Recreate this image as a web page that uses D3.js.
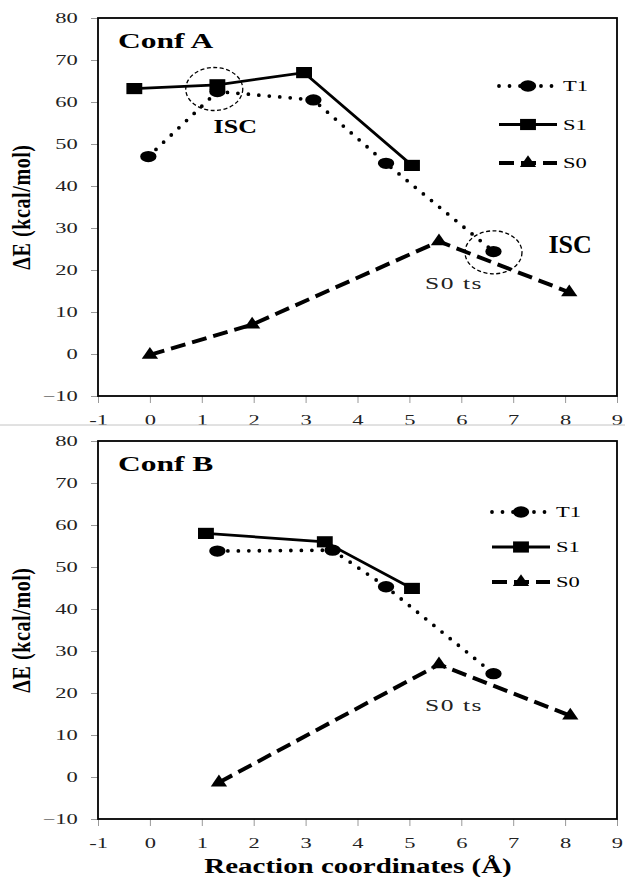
<!DOCTYPE html>
<html>
<head>
<meta charset="utf-8">
<script src="https://cdn.jsdelivr.net/npm/d3@7"></script>
<style>
  body { margin: 0; background: #fff; }
  svg { display: block; }
</style>
</head>
<body>
<svg id="chart" width="625" height="877"></svg>
<script>
// reaction coordinate (x) and energy (y)
var xTicks = [-1, 0, 1, 2, 3, 4, 5, 6, 7, 8, 9];
var yTicks = [-10, 0, 10, 20, 30, 40, 50, 60, 70, 80];
var seriesNames = ["T1", "S1", "S0"];

var confA_T1 = [[-0.03, 47], [1.3, 62.5], [3.15, 60.5], [4.55, 45.4], [6.62, 24.4]];
var confA_S1 = [[-0.3, 63.2], [1.3, 64.1], [2.97, 67], [5.05, 44.9]];
var confA_S0 = [[0, -0.2], [1.97, 7], [5.57, 26.8], [8.08, 14.7]];
var confA_isc = [[1.24, 63.1], [6.62, 24.2]];

var confB_T1 = [[1.3, 53.8], [3.52, 54], [4.55, 45.3], [6.62, 24.6]];
var confB_S1 = [[1.08, 58], [3.37, 56], [5.05, 44.9]];
var confB_S0 = [[1.33, -1.3], [5.57, 26.8], [8.1, 14.6]];

var SX = 1.5;   // the reference is stretched sideways, text too
var serif = "'Liberation Serif', 'Times New Roman', serif";

var svg = d3.select("#chart");

function marker(g, name, px, py) {
    var sym, sc;
    if (name == "T1") { sym = d3.symbol(d3.symbolCircle, 100); sc = 1.45; }
    else if (name == "S1") { sym = d3.symbol(d3.symbolSquare, 125); sc = 1.42; }
    else { sym = d3.symbol(d3.symbolTriangle, 80); sc = 1.2; }
    g.append("path")
        .attr("d", sym())
        .attr("fill", "#000")
        .attr("transform", `translate(${px},${py}) scale(${sc},1)`);
}

function lineStyle(sel, name) {
    sel.attr("fill", "none").attr("stroke", "#000");
    if (name == "T1") {
        sel.attr("stroke-width", 3.8).attr("stroke-linecap", "round").attr("stroke-dasharray", "0,10.5");
    } else if (name == "S1") {
        sel.attr("stroke-width", 2.8);
    } else {
        sel.attr("stroke-width", 4).attr("stroke-dasharray", "15,7");
    }
    return sel;
}

function drawPanel(cfg) {
    var top = cfg.top, bottom = cfg.bottom;
    var left = 98, right = 617;
    var x = d3.scaleLinear().domain([-1, 9]).range([left, right]);
    var y = d3.scaleLinear().domain([-10, 80]).range([bottom, top]);
    var g = svg.append("g");

    // axes (ticks + labels), frame drawn separately
    var yAxis = g.append("g")
        .attr("transform", `translate(${left},0)`)
        .call(d3.axisLeft(y).tickValues(yTicks).tickSize(7).tickPadding(6.5).tickSizeOuter(0));
    var xAxis = g.append("g")
        .attr("transform", `translate(0,${bottom})`)
        .call(d3.axisBottom(x).tickValues(xTicks).tickSize(7).tickPadding(9).tickSizeOuter(0)
            .tickFormat(d => d < 0 ? "-" + Math.abs(d) : d));
    [yAxis, xAxis].forEach(function (a) {
        a.select(".domain").remove();
        a.selectAll("line").attr("stroke", "#999");
        a.selectAll("text")
            .attr("font-family", serif)
            .attr("font-size", 15)
            .attr("fill", "#222")
            .attr("transform", `scale(${SX},1)`);
    });
    xAxis.selectAll("text").attr("dy", "0.85em");

    g.append("rect")
        .attr("x", left).attr("y", top)
        .attr("width", right - left).attr("height", bottom - top)
        .attr("fill", "none").attr("stroke", "#000").attr("stroke-width", 1.8);

    // y title
    g.append("text")
        .attr("transform", `translate(30,${(top + bottom) / 2}) rotate(-90) scale(1,1.25)`)
        .attr("text-anchor", "middle")
        .attr("font-family", serif).attr("font-weight", "bold").attr("font-size", 20)
        .attr("letter-spacing", 0.6)
        .text("ΔE (kcal/mol)");

    g.append("text")
        .attr("transform", `translate(118,${top + 30}) scale(${SX},1)`)
        .attr("font-family", serif).attr("font-weight", "bold").attr("font-size", 21)
        .text(cfg.title);

    var line = d3.line().x(d => x(d[0])).y(d => y(d[1]));
    var sets = [cfg.T1, cfg.S1, cfg.S0];
    // dashed S0 first, then S1, dotted T1 on top
    [2, 1, 0].forEach(function (i) {
        lineStyle(g.append("path").datum(sets[i]).attr("d", line), seriesNames[i]);
    });
    [2, 1, 0].forEach(function (i) {
        sets[i].forEach(function (d) { marker(g, seriesNames[i], x(d[0]), y(d[1])); });
    });

    // ISC circles
    (cfg.isc || []).forEach(function (d) {
        g.append("ellipse")
            .attr("cx", x(d[0])).attr("cy", y(d[1]))
            .attr("rx", 28.5).attr("ry", 21.5)
            .attr("fill", "none").attr("stroke", "#000")
            .attr("stroke-width", 1.3).attr("stroke-dasharray", "4,2.5");
    });
    if (cfg.isc) {
        g.append("text")
            .attr("transform", `translate(${x(cfg.isc[0][0]) + 21},${y(cfg.isc[0][1]) + 44}) scale(1.37,1)`)
            .attr("text-anchor", "middle")
            .attr("font-family", serif).attr("font-weight", "bold").attr("font-size", 19)
            .text("ISC");
        g.append("text")
            .attr("x", x(cfg.isc[1][0]) + 55).attr("y", y(cfg.isc[1][1]) + 1)
            .attr("font-family", serif).attr("font-weight", "bold").attr("font-size", 26)
            .text("ISC");
    }

    // S0 transition state label under the S0 peak
    var peak = cfg.S0[cfg.S0.length - 2];
    g.append("text")
        .attr("transform", `translate(${x(peak[0]) + 15},${y(peak[1]) + cfg.tsDy}) scale(${SX},1)`)
        .attr("text-anchor", "middle")
        .attr("font-family", serif).attr("font-size", 17)
        .attr("letter-spacing", 1)
        .attr("fill", "#222")
        .text("S0 ts");

    // legend
    seriesNames.forEach(function (name, i) {
        var ly = cfg.legY + i * cfg.legStep;
        var lx = cfg.legX;
        lineStyle(g.append("path").attr("d", `M${lx},${ly}H${lx + 58}`), name);
        marker(g, name, lx + 29, ly);
        g.append("text")
            .attr("transform", `translate(${lx + 64},${ly + 5}) scale(${SX},1)`)
            .attr("font-family", serif).attr("font-size", 15)
            .text(name);
    });
}

drawPanel({ top: 18, bottom: 396, title: "Conf A", T1: confA_T1, S1: confA_S1, S0: confA_S0,
    isc: confA_isc, legX: 499, legY: 86, legStep: 38.5, tsDy: 48 });

// second screenshot pasted below: covers the cut tick labels
svg.append("rect").attr("x", 0).attr("y", 425).attr("width", 625).attr("height", 452).attr("fill", "#fff");
svg.append("line").attr("x1", 0).attr("x2", 625).attr("y1", 425).attr("y2", 425)
    .attr("stroke", "#c4c4c4").attr("stroke-width", 1);

drawPanel({ top: 441, bottom: 819, title: "Conf B", T1: confB_T1, S1: confB_S1, S0: confB_S0,
    isc: null, legX: 492, legY: 512, legStep: 35, tsDy: 47 });

svg.append("text")
    .attr("transform", `translate(358,873) scale(1.45,1)`)
    .attr("text-anchor", "middle")
    .attr("font-family", serif).attr("font-weight", "bold").attr("font-size", 20)
    .text("Reaction coordinates (Å)");
</script>
</body>
</html>
